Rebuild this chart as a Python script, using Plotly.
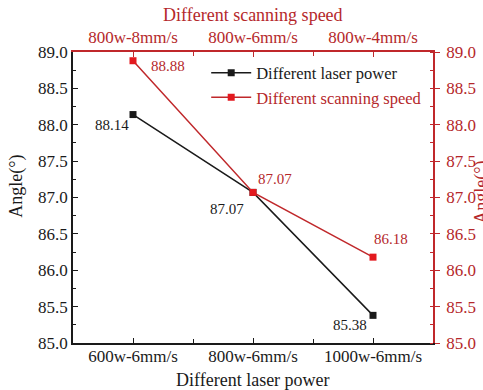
import plotly.graph_objects as go

# Process settings (bottom axis: laser power, top axis: scanning speed)
power_levels = ["600w-6mm/s", "800w-6mm/s", "1000w-6mm/s"]
speed_levels = ["800w-8mm/s", "800w-6mm/s", "800w-4mm/s"]

# Measured angle (degrees)
angle_power = [88.14, 87.07, 85.38]
angle_speed = [88.88, 87.07, 86.18]

# Label offsets (px) for each value label
power_label_shift = [(-21, -10), (-26, -17), (-23, -10)]
speed_label_shift = [(35, -5), (22, 13), (18, 18)]

FONT = "Liberation Serif, serif"
BLACK = "#1a1a1a"
RED_LINE = "#c0282b"
RED_MARK = "#e3191f"
RED_TEXT = "#b5282b"

pos_power = list(range(len(power_levels)))
pos_speed = list(range(len(speed_levels)))

fig = go.Figure()

fig.add_trace(go.Scatter(
    x=pos_power, y=angle_power, mode="lines+markers",
    name="Different laser power",
    line=dict(color=BLACK, width=1.5),
    marker=dict(symbol="square", size=7, color=BLACK),
    xaxis="x", yaxis="y",
))
fig.add_trace(go.Scatter(
    x=pos_speed, y=angle_speed, mode="lines+markers",
    name="<span style='color:%s'>Different scanning speed</span>" % RED_TEXT,
    line=dict(color=RED_LINE, width=1.5),
    marker=dict(symbol="square", size=7, color=RED_MARK),
    xaxis="x2", yaxis="y2",
))

annotations = []
for xv, yv, (dx, dy) in zip(pos_power, angle_power, power_label_shift):
    annotations.append(dict(
        x=xv, y=yv, xref="x", yref="y", text=f"{yv:.2f}", showarrow=False,
        xshift=dx, yshift=dy, font=dict(family=FONT, size=15, color=BLACK),
    ))
for xv, yv, (dx, dy) in zip(pos_speed, angle_speed, speed_label_shift):
    annotations.append(dict(
        x=xv, y=yv, xref="x2", yref="y2", text=f"{yv:.2f}", showarrow=False,
        xshift=dx, yshift=dy, font=dict(family=FONT, size=15, color=RED_TEXT),
    ))

# Axis titles
annotations += [
    dict(x=-0.156, y=0.54, xref="paper", yref="paper", text="Angle(°)",
         textangle=-90, showarrow=False, xanchor="center", yanchor="middle",
         font=dict(family=FONT, size=18, color=BLACK)),
    dict(x=1.136, y=0.52, xref="paper", yref="paper", text="Angle(°)",
         textangle=-90, showarrow=False, xanchor="center", yanchor="middle",
         font=dict(family=FONT, size=18, color=RED_TEXT)),
    dict(x=0.5, y=-0.127, xref="paper", yref="paper", text="Different laser power",
         showarrow=False, xanchor="center", yanchor="middle",
         font=dict(family=FONT, size=18, color=BLACK)),
    dict(x=0.5, y=1.127, xref="paper", yref="paper", text="Different scanning speed",
         showarrow=False, xanchor="center", yanchor="middle",
         font=dict(family=FONT, size=18, color=RED_TEXT)),
]

y_common = dict(range=[85, 89], dtick=0.5, tick0=85, tickformat=".1f", automargin=False,
                showgrid=False, zeroline=False, showline=True, linewidth=1.5)

fig.update_layout(
    width=483, height=390,
    margin=dict(l=73, r=50, t=52, b=47, autoexpand=False),
    paper_bgcolor="white", plot_bgcolor="white",
    font=dict(family=FONT, size=17, color=BLACK),
    showlegend=True,
    legend=dict(x=0.37, y=0.988, xanchor="left", yanchor="top",
                bgcolor="rgba(0,0,0,0)", font=dict(family=FONT, size=16.5, color=BLACK),
                tracegroupgap=0, itemwidth=40),
    xaxis=dict(
        range=[-0.5, 2.5], tickmode="array", tickvals=pos_power, ticktext=power_levels,
        automargin=False,
        showgrid=False, zeroline=False, showline=True, linecolor=BLACK, linewidth=1.5,
        ticks="inside", ticklen=5, tickcolor=BLACK, ticklabelstandoff=-3,
        minor=dict(tickvals=[0.5, 1.5], ticks="inside", ticklen=4, tickcolor=BLACK),
        tickfont=dict(family=FONT, size=17, color=BLACK),
    ),
    xaxis2=dict(
        range=[-0.5, 2.5], tickmode="array", tickvals=pos_speed, ticktext=speed_levels,
        overlaying="x", side="top", anchor="y", automargin=False,
        showgrid=False, zeroline=False, showline=True, linecolor=RED_LINE, linewidth=1.5,
        ticks="inside", ticklen=5, tickcolor=RED_LINE,
        minor=dict(tickvals=[0.5, 1.5], ticks="inside", ticklen=4, tickcolor=RED_LINE),
        tickfont=dict(family=FONT, size=17, color=RED_TEXT),
    ),
    yaxis=dict(
        **y_common, linecolor=BLACK,
        ticks="inside", ticklen=5, tickcolor=BLACK,
        minor=dict(dtick=0.25, ticks="inside", ticklen=3, tickcolor=BLACK),
        tickfont=dict(family=FONT, size=17, color=BLACK),
    ),
    yaxis2=dict(
        **y_common, linecolor=RED_LINE, overlaying="y", side="right", anchor="x",
        ticks="outside", ticklen=5, tickcolor=RED_LINE, ticklabelstandoff=3,
        minor=dict(dtick=0.25, ticks="inside", ticklen=3, tickcolor=RED_LINE),
        tickfont=dict(family=FONT, size=17, color=RED_TEXT),
    ),
    annotations=annotations,
)

fig.write_html("out.html")
